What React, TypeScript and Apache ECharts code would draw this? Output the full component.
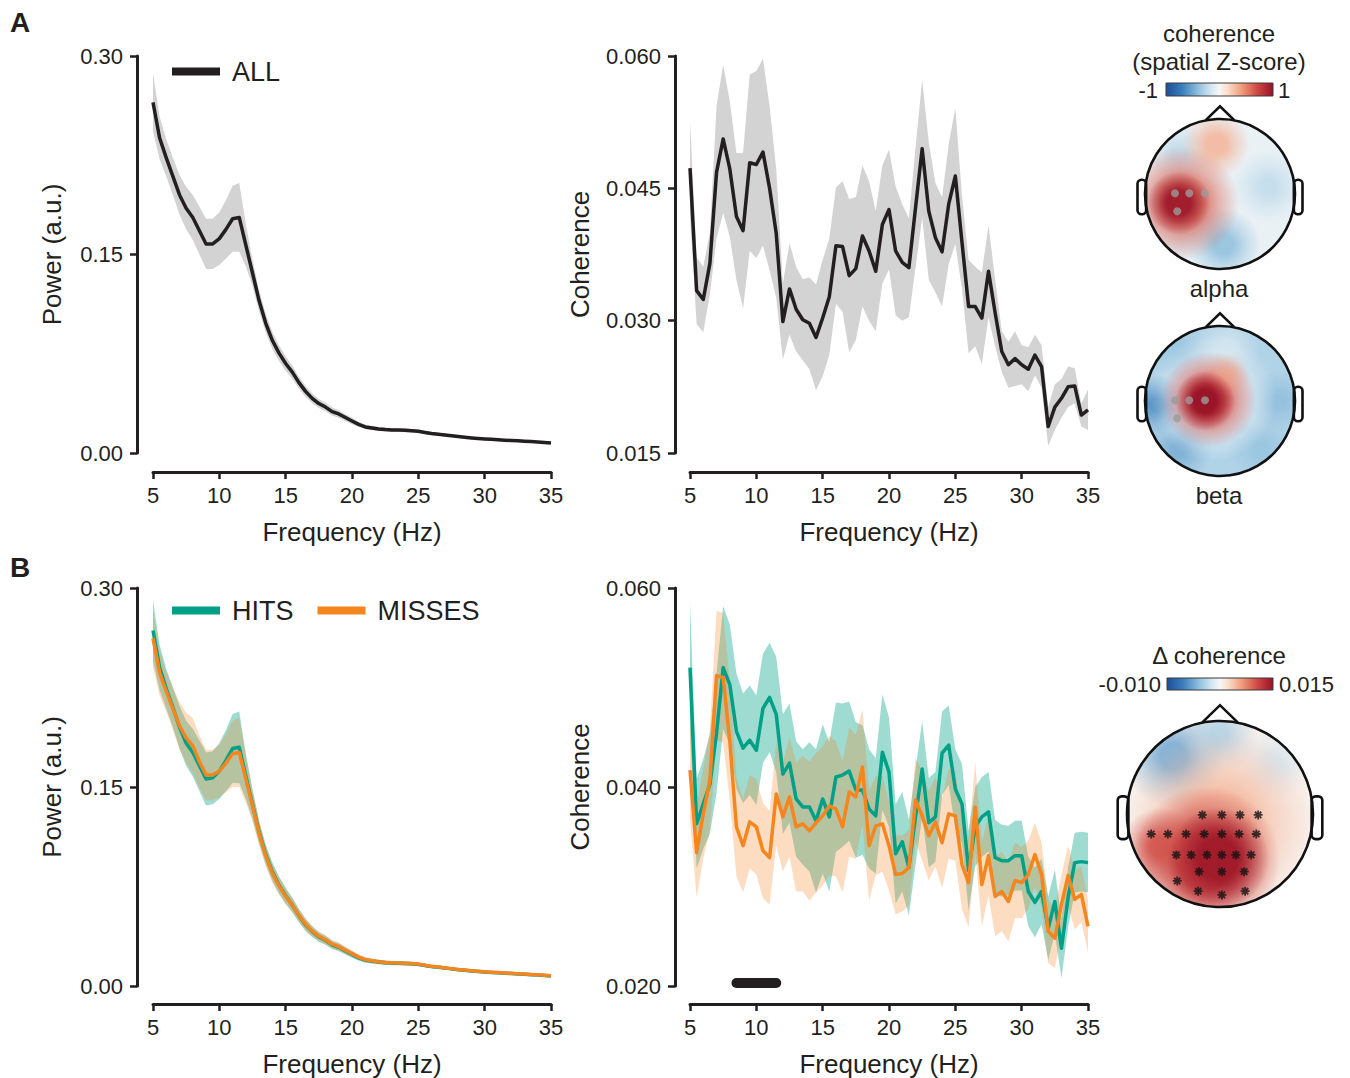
import React, { useEffect, useRef } from 'react';
import * as echarts from 'echarts';

// ---------------- data ----------------
const freqs = [
  5, 5.5, 6, 6.5, 7, 7.5, 8, 8.5, 9, 9.5,
  10, 10.5, 11, 11.5, 12, 12.5, 13, 13.5, 14, 14.5,
  15, 15.5, 16, 16.5, 17, 17.5, 18, 18.5, 19, 19.5,
  20, 20.5, 21, 21.5, 22, 22.5, 23, 23.5, 24, 24.5,
  25, 25.5, 26, 26.5, 27, 27.5, 28, 28.5, 29, 29.5,
  30, 30.5, 31, 31.5, 32, 32.5, 33, 33.5, 34, 34.5,
  35,
];

const allPower = [
  0.265, 0.238, 0.223, 0.209, 0.195, 0.185, 0.178, 0.168, 0.158, 0.158,
  0.162, 0.169, 0.177, 0.178, 0.157, 0.136, 0.115, 0.098, 0.085, 0.0755,
  0.0676, 0.0611, 0.0532, 0.0466, 0.0413, 0.0374, 0.0347, 0.0313, 0.0295, 0.0268,
  0.0242, 0.0216, 0.0197, 0.0189, 0.0182, 0.0177, 0.0174, 0.0173, 0.0171, 0.0168,
  0.0164, 0.0155, 0.0147, 0.0142, 0.0136, 0.013, 0.0124, 0.0119, 0.0114, 0.011,
  0.0106, 0.0103, 0.01, 0.0097, 0.0095, 0.0092, 0.0089, 0.0086, 0.0083, 0.008,
  0.0076,
];
const allPowerSem = [
  0.022, 0.016, 0.014, 0.014, 0.015, 0.016, 0.017, 0.018, 0.019, 0.019,
  0.02, 0.022, 0.025, 0.026, 0.016, 0.01, 0.008, 0.007, 0.0065, 0.006,
  0.0055, 0.005, 0.0045, 0.004, 0.0037, 0.0034, 0.0032, 0.003, 0.0028, 0.0026,
  0.0024, 0.002, 0.0018, 0.0017, 0.0016, 0.0015, 0.0015, 0.0014, 0.0014, 0.0013,
  0.0013, 0.0012, 0.0012, 0.0011, 0.0011, 0.001, 0.001, 0.001, 0.001, 0.0009,
  0.0009, 0.0009, 0.0009, 0.0008, 0.0008, 0.0008, 0.0008, 0.0008, 0.0007, 0.0007,
  0.0007,
];
const hitsPower = [
  0.268, 0.24, 0.224, 0.21, 0.195, 0.183, 0.176, 0.166, 0.156, 0.157,
  0.162, 0.17, 0.179, 0.18, 0.158, 0.137, 0.116, 0.099, 0.086, 0.076,
  0.068, 0.061, 0.053, 0.046, 0.041, 0.037, 0.0345, 0.031, 0.0292, 0.0265,
  0.0238, 0.0212, 0.0195, 0.0187, 0.0181, 0.0176, 0.0173, 0.0172, 0.017, 0.0167,
  0.0163, 0.0154, 0.0146, 0.0141, 0.0135, 0.0129, 0.0123, 0.0118, 0.0113, 0.0109,
  0.0105, 0.0102, 0.0099, 0.0096, 0.0094, 0.0091, 0.0088, 0.0085, 0.0082, 0.0079,
  0.0075,
];
const hitsPowerSem = [
  0.023, 0.017, 0.015, 0.015, 0.016, 0.017, 0.018, 0.019, 0.02, 0.02,
  0.021, 0.023, 0.026, 0.027, 0.017, 0.011, 0.0085, 0.0075, 0.007, 0.0065,
  0.006, 0.0055, 0.005, 0.0045, 0.004, 0.0036, 0.0034, 0.0032, 0.003, 0.0028,
  0.0026, 0.0022, 0.002, 0.0018, 0.0017, 0.0016, 0.0016, 0.0015, 0.0015, 0.0014,
  0.0014, 0.0013, 0.0013, 0.0012, 0.0012, 0.0011, 0.0011, 0.0011, 0.001, 0.001,
  0.001, 0.001, 0.0009, 0.0009, 0.0009, 0.0009, 0.0008, 0.0008, 0.0008, 0.0008,
  0.0008,
];
const missesPower = [
  0.262, 0.236, 0.222, 0.209, 0.196, 0.187, 0.181, 0.169, 0.159, 0.159,
  0.162, 0.168, 0.175, 0.176, 0.156, 0.136, 0.115, 0.098, 0.085, 0.0755,
  0.0676, 0.061, 0.0532, 0.0466, 0.0413, 0.0375, 0.0348, 0.0315, 0.0297, 0.027,
  0.0244, 0.0218, 0.0199, 0.019, 0.0183, 0.0178, 0.0175, 0.0174, 0.0172, 0.0169,
  0.0165, 0.0156, 0.0148, 0.0143, 0.0137, 0.0131, 0.0125, 0.012, 0.0115, 0.0111,
  0.0107, 0.0104, 0.0101, 0.0098, 0.0096, 0.0093, 0.009, 0.0087, 0.0084, 0.0081,
  0.0077,
];
const missesPowerSem = [
  0.022, 0.017, 0.015, 0.016, 0.018, 0.019, 0.021, 0.02, 0.019, 0.019,
  0.02, 0.022, 0.025, 0.026, 0.018, 0.012, 0.009, 0.008, 0.0072, 0.0066,
  0.006, 0.0055, 0.005, 0.0045, 0.004, 0.0036, 0.0034, 0.0032, 0.003, 0.0028,
  0.0026, 0.0022, 0.002, 0.0018, 0.0017, 0.0016, 0.0016, 0.0015, 0.0015, 0.0014,
  0.0014, 0.0013, 0.0013, 0.0012, 0.0012, 0.0011, 0.0011, 0.0011, 0.001, 0.001,
  0.001, 0.001, 0.0009, 0.0009, 0.0009, 0.0009, 0.0008, 0.0008, 0.0008, 0.0008,
  0.0008,
];

const allCoh = [
  0.0473, 0.0334, 0.0324, 0.0365, 0.0468, 0.0506, 0.0472, 0.0418, 0.0402, 0.0479,
  0.0477, 0.0491, 0.045, 0.0399, 0.0299, 0.0336, 0.0313, 0.0301, 0.0297, 0.0281,
  0.0303, 0.0327, 0.0385, 0.0384, 0.0351, 0.0359, 0.0396, 0.0379, 0.0356, 0.0409,
  0.0426, 0.0379, 0.0366, 0.036, 0.0428, 0.0495, 0.0424, 0.0394, 0.0378, 0.0432,
  0.0464, 0.0389, 0.0316, 0.0316, 0.0303, 0.0356, 0.0309, 0.0265, 0.025, 0.0257,
  0.025, 0.0245, 0.0261, 0.0248, 0.018, 0.0202, 0.0212, 0.0225, 0.0226, 0.0193,
  0.0199,
];
const allCohSem = [
  0.0054, 0.0038, 0.0037, 0.0035, 0.0075, 0.0084, 0.0077, 0.0072, 0.0088, 0.01,
  0.0106, 0.0106, 0.0093, 0.0073, 0.0043, 0.0052, 0.0048, 0.0046, 0.0052, 0.006,
  0.0066, 0.0066, 0.0066, 0.0074, 0.0087, 0.0081, 0.008, 0.0079, 0.0068, 0.0067,
  0.0068, 0.0073, 0.0066, 0.0056, 0.0068, 0.0078, 0.0078, 0.0062, 0.0062, 0.0068,
  0.0077, 0.0053, 0.0053, 0.0045, 0.0052, 0.0052, 0.0038, 0.0023, 0.0026, 0.0031,
  0.0022, 0.0025, 0.0023, 0.0024, 0.0022, 0.0026, 0.0022, 0.0023, 0.002, 0.0013,
  0.0023,
];
const hitsCoh = [
  0.052, 0.0363, 0.0383, 0.0403, 0.0454, 0.052, 0.0503, 0.0456, 0.0439, 0.0447,
  0.0437, 0.0479, 0.049, 0.0473, 0.0413, 0.0424, 0.0388, 0.038, 0.038, 0.0366,
  0.0388, 0.037, 0.041, 0.0412, 0.0416, 0.0397, 0.0397, 0.0378, 0.0371, 0.0435,
  0.0415, 0.0333, 0.0345, 0.0319, 0.037, 0.0418, 0.0364, 0.037, 0.0434, 0.0442,
  0.0398, 0.0383, 0.0316, 0.036, 0.037, 0.0375, 0.0329, 0.0326, 0.0326, 0.0331,
  0.0331, 0.0295, 0.0284, 0.0295, 0.0258, 0.0285, 0.0238, 0.0289, 0.0324, 0.0325,
  0.0324,
];
const hitsCohSem = [
  0.0065, 0.0045, 0.0045, 0.005, 0.006, 0.0062, 0.006, 0.0058, 0.0055, 0.0055,
  0.0055, 0.0055, 0.0055, 0.0058, 0.006, 0.006, 0.0058, 0.0058, 0.0065, 0.0072,
  0.0075, 0.0075, 0.0075, 0.0072, 0.007, 0.0068, 0.0065, 0.006, 0.0058, 0.0058,
  0.0055, 0.005, 0.005, 0.0048, 0.0048, 0.0048, 0.0045, 0.0045, 0.0042, 0.004,
  0.004, 0.004, 0.004, 0.004, 0.004, 0.004, 0.0038, 0.0036, 0.0035, 0.0035,
  0.0035, 0.0035, 0.0035, 0.0033, 0.0032, 0.0032, 0.003, 0.003, 0.003, 0.003,
  0.003,
];
const missesCoh = [
  0.0417, 0.0334, 0.0373, 0.0407, 0.0512, 0.051, 0.0446, 0.036, 0.0341, 0.0365,
  0.036, 0.0336, 0.0329, 0.0393, 0.037, 0.039, 0.036, 0.0363, 0.0356, 0.0364,
  0.0371, 0.0381, 0.0378, 0.036, 0.0395, 0.039, 0.042, 0.0341, 0.0361, 0.0363,
  0.0341, 0.0312, 0.0313, 0.0319, 0.0387, 0.0371, 0.0351, 0.0365, 0.0344, 0.0373,
  0.0371, 0.0322, 0.0304, 0.038, 0.0302, 0.0331, 0.029, 0.0295, 0.0285, 0.0306,
  0.0304, 0.0312, 0.0332, 0.0312, 0.0255, 0.0248, 0.0282, 0.0311, 0.0287, 0.0292,
  0.026,
];
const missesCohSem = [
  0.005, 0.0045, 0.0045, 0.005, 0.0065, 0.0065, 0.006, 0.005, 0.0047, 0.0047,
  0.0048, 0.0048, 0.0047, 0.0052, 0.0055, 0.006, 0.0065, 0.0068, 0.007, 0.007,
  0.007, 0.007, 0.0068, 0.0066, 0.0065, 0.0062, 0.0058, 0.0055, 0.005, 0.0048,
  0.0045, 0.004, 0.0038, 0.0038, 0.0042, 0.0045, 0.0045, 0.0045, 0.0045, 0.0045,
  0.0045, 0.0045, 0.0045, 0.0045, 0.0042, 0.004, 0.004, 0.004, 0.004, 0.0038,
  0.0036, 0.0034, 0.0032, 0.0032, 0.0032, 0.003, 0.003, 0.003, 0.003, 0.0028,
  0.0026,
];

// significant cluster (Hz) and drawing level on the coherence axis
const sigCluster = [8.5, 11.5];
const sigLevel = 0.0203;

// topographies: [x, y, radius, colour position 0..1, opacity, core fraction] in head units
const alphaBlobs = [
  [0, 0, 1.1, 0.47, 1, 0.98],
  [-0.55, 0.55, 0.42, 0.37, 0.7, 0.2],
  [0.65, 0.1, 0.5, 0.37, 0.7, 0.2],
  [0.05, -0.68, 0.5, 0.3, 0.85, 0.25],
  [-0.5, -0.6, 0.35, 0.4, 0.5, 0.2],
  [-0.05, 0.66, 0.45, 0.66, 0.85, 0.3],
  [-0.5, -0.12, 0.76, 0.8, 0.92, 0.32],
  [-0.55, -0.12, 0.42, 0.98, 0.95, 0.38],
];
const betaBlobs = [
  [0, 0, 1.1, 0.36, 1, 0.98],
  [-0.85, -0.05, 0.4, 0.18, 0.85, 0.2],
  [-0.55, -0.65, 0.45, 0.24, 0.7, 0.2],
  [-0.55, 0.65, 0.4, 0.3, 0.6, 0.2],
  [0.8, 0.0, 0.42, 0.28, 0.6, 0.2],
  [0.55, -0.65, 0.45, 0.3, 0.6, 0.2],
  [-0.1, 0.05, 0.85, 0.5, 0.9, 0.3],
  [0.1, 0.72, 0.45, 0.45, 0.6, 0.2],
  [-0.15, 0.02, 0.64, 0.83, 0.95, 0.32],
  [0.1, 0.35, 0.3, 0.7, 0.6, 0.2],
  [-0.2, 0.0, 0.4, 1.0, 0.95, 0.38],
];
const deltaBlobs = [
  [0, 0, 1.1, 0.52, 1, 0.98],
  [-0.5, 0.62, 0.55, 0.25, 0.85, 0.25],
  [0.0, 0.85, 0.42, 0.34, 0.75, 0.2],
  [0.6, 0.55, 0.4, 0.4, 0.6, 0.2],
  [0.0, -0.1, 1.0, 0.66, 0.85, 0.3],
  [-0.15, -0.5, 0.8, 0.87, 0.95, 0.38],
  [-0.65, -0.35, 0.42, 0.84, 0.85, 0.25],
  [-0.02, -0.48, 0.55, 0.98, 0.95, 0.38],
];
const seedSensors = [
  [-0.6, 0.01], [-0.41, 0.01], [-0.2, 0.01], [-0.57, -0.23],
];
const sigSensors = [
  [-0.19, -0.01], [0.02, -0.01], [0.215, -0.01], [0.41, -0.01],
  [-0.74, -0.215], [-0.56, -0.215], [-0.365, -0.215], [-0.17, -0.215], [0.02, -0.215], [0.205, -0.215], [0.39, -0.215],
  [-0.47, -0.44], [-0.31, -0.44], [-0.14, -0.44], [0.02, -0.44], [0.17, -0.44], [0.335, -0.44],
  [-0.225, -0.62], [0.02, -0.62], [0.26, -0.62],
  [-0.46, -0.72],
  [-0.235, -0.83], [0.02, -0.87], [0.27, -0.83],
];

// ---------------- style ----------------
const TXT = '#231f20';
const FONT = '"Liberation Sans", Arial, Helvetica, sans-serif';
const TEAL = '#00a087';
const ORANGE = '#f5861f';
const rdbuStops: [number, string][] = [
  [0, '#1d4f9a'], [0.15, '#3a7dbb'], [0.3, '#8ebfdd'], [0.42, '#d4e6f1'], [0.5, '#f7f7f7'],
  [0.58, '#fbdcc9'], [0.7, '#f1a07f'], [0.85, '#cf4a45'], [1, '#981126'],
];
const ASTERISK = 'path://M-1,-5L1,-5L1,5L-1,5Z M-5,-1L5,-1L5,1L-5,1Z M-4.25,-2.83L-2.83,-4.25L4.25,2.83L2.83,4.25Z M-2.83,4.25L-4.25,2.83L2.83,-4.25L4.25,-2.83Z';

function hexToRgb(h: string) {
  const n = parseInt(h.slice(1), 16);
  return [(n >> 16) & 255, (n >> 8) & 255, n & 255];
}
function cmap(t: number) {
  const tt = Math.max(0, Math.min(1, t));
  for (let i = 1; i < rdbuStops.length; i++) {
    const [t1, c1] = rdbuStops[i];
    const [t0, c0] = rdbuStops[i - 1];
    if (tt <= t1) {
      const f = (tt - t0) / (t1 - t0);
      const a = hexToRgb(c0), b = hexToRgb(c1);
      return a.map((v, k) => Math.round(v + (b[k] - v) * f));
    }
  }
  return hexToRgb(rdbuStops[rdbuStops.length - 1][1]);
}

const freqAxis = (gi: number, off: number) => ({
  type: 'value', gridIndex: gi, min: 5, max: 35, interval: 5, offset: off,
  axisLine: { show: true, onZero: false, lineStyle: { color: TXT, width: 3 } },
  axisTick: { show: true, length: 7, lineStyle: { color: TXT, width: 2.5 } },
  axisLabel: { fontSize: 22, color: TXT, margin: 12, fontFamily: FONT },
  splitLine: { show: false },
  name: 'Frequency (Hz)', nameLocation: 'middle', nameGap: 47,
  nameTextStyle: { fontSize: 26, color: TXT, fontFamily: FONT },
});
const valAxis = (gi: number, min: number, max: number, interval: number, dec: number, name: string, gap: number, off: number) => ({
  type: 'value', gridIndex: gi, min, max, interval, offset: off,
  axisLine: { show: true, onZero: false, lineStyle: { color: TXT, width: 3 } },
  axisTick: { show: true, length: 7, lineStyle: { color: TXT, width: 2.5 } },
  axisLabel: { fontSize: 22, color: TXT, margin: 14, fontFamily: FONT, formatter: (v: number) => v.toFixed(dec) },
  splitLine: { show: false },
  name, nameLocation: 'middle', nameGap: gap,
  nameTextStyle: { fontSize: 26, color: TXT, fontFamily: FONT },
});
const hiddenAxis = (gi: number) => ({ type: 'value', gridIndex: gi, min: -1.25, max: 1.25, show: false });

// mean ± sem band drawn as one polygon through the axes' own coordinate mapping
const band = (gi: number, mean: number[], sem: number[], color: string, opacity: number) => ({
  type: 'custom', xAxisIndex: gi, yAxisIndex: gi, silent: true, z: 1,
  data: mean.map((v, i) => [freqs[i], v - sem[i], v + sem[i]]),
  encode: { x: 0, y: [1, 2] },
  renderItem: (params: any, api: any) => {
    if (params.dataIndexInside !== 0) return { type: 'group', children: [] };
    const n = params.dataInsideLength;
    const up: number[][] = [];
    const lo: number[][] = [];
    for (let i = 0; i < n; i++) {
      const x = api.value(0, i);
      up.push(api.coord([x, api.value(2, i)]));
      lo.push(api.coord([x, api.value(1, i)]));
    }
    return {
      type: 'polygon', shape: { points: up.concat(lo.reverse()) },
      style: { fill: color, opacity },
    };
  },
});
const meanLine = (gi: number, name: string, mean: number[], color: string) => ({
  type: 'line', name, xAxisIndex: gi, yAxisIndex: gi, silent: true, z: 3, clip: false,
  data: mean.map((v, i) => [freqs[i], v]), symbol: 'none',
  lineStyle: { color, width: 3.5, join: 'round' }, itemStyle: { color },
});

const blobSeries = (gi: number, data: number[][]) => ({
  type: 'custom', xAxisIndex: gi, yAxisIndex: gi, z: 3, silent: true, data,
  renderItem: (params: any, api: any) => {
    const c = api.coord([api.value(0), api.value(1)]);
    const r = api.size([api.value(2), 0])[0];
    const [R, G, B] = cmap(api.value(3));
    const a = api.value(4);
    const core = api.value(5);
    const col = (al: number) => `rgba(${R},${G},${B},${al})`;
    return {
      type: 'circle', shape: { cx: c[0], cy: c[1], r },
      style: {
        fill: new echarts.graphic.RadialGradient(0.5, 0.5, 0.5, [
          { offset: 0, color: col(a) },
          { offset: core, color: col(a) },
          { offset: (core + 1) / 2, color: col(a * 0.45) },
          { offset: 1, color: col(0) },
        ]),
      },
    };
  },
});
const headSeries = (gi: number) => ({
  type: 'custom', xAxisIndex: gi, yAxisIndex: gi, z: 4, silent: true, data: [[0, 0]],
  renderItem: (params: any, api: any) => {
    const c = api.coord([0, 0]);
    const R = api.size([1, 0])[0];
    const p = (x: number, y: number) => api.coord([x, y]);
    const lw = 2.6;
    const line = { fill: 'none', stroke: '#111', lineWidth: lw };
    const e1 = p(-1.1, 0.19), e2 = p(-0.985, -0.27);
    const f1 = p(0.985, 0.19), f2 = p(1.1, -0.27);
    return {
      type: 'group',
      children: [
        { type: 'ring', shape: { cx: c[0], cy: c[1], r: R * 1.42, r0: R }, style: { fill: '#fff' } },
        { type: 'circle', shape: { cx: c[0], cy: c[1], r: R }, style: line },
        { type: 'polyline', shape: { points: [p(-0.19, 0.985), p(0, 1.17), p(0.19, 0.985)] }, style: line },
        { type: 'rect', shape: { x: e1[0], y: e1[1], width: e2[0] - e1[0], height: e2[1] - e1[1], r: 4 }, style: line },
        { type: 'rect', shape: { x: f1[0], y: f1[1], width: f2[0] - f1[0], height: f2[1] - f1[1], r: 4 }, style: line },
      ],
    };
  },
});

const textEl = (text: string, x: number, y: number, size: number, align = 'center', bold = false) => ({
  type: 'text', x, y, z: 100, silent: true,
  style: { text, fill: TXT, font: `${bold ? 'bold ' : ''}${size}px ${FONT}`, align, verticalAlign: 'middle' },
});
const colorbar = (x: number, y: number, w: number, h: number) => ({
  type: 'rect', z: 100, silent: true, shape: { x, y, width: w, height: h },
  style: {
    fill: new echarts.graphic.LinearGradient(0, 0, 1, 0, rdbuStops.map(([o, c]) => ({ offset: o, color: c }))),
    stroke: '#3a3a3a', lineWidth: 1,
  },
});

export default function App() {
  const ref = useRef<HTMLDivElement>(null);
  useEffect(() => {
    if (!ref.current) return;
    const chart = echarts.init(ref.current, undefined, { renderer: 'svg' });
    const legendBase = {
      icon: 'rect', itemWidth: 48, itemHeight: 8, itemGap: 24, selectedMode: false, padding: 0,
      textStyle: { fontSize: 27, color: TXT, fontFamily: FONT, padding: [0, 0, 0, 7] },
    };
    const option: any = {
      animation: false,
      backgroundColor: '#fff',
      textStyle: { fontFamily: FONT },
      grid: [
        { left: 153, top: 56, width: 398, height: 397 },
        { left: 690, top: 56, width: 398, height: 397 },
        { left: 153, top: 588, width: 398, height: 399 },
        { left: 690, top: 588, width: 398, height: 399 },
        { left: 1126.25, top: 100.25, width: 187.5, height: 187.5 },
        { left: 1126.25, top: 307.25, width: 187.5, height: 187.5 },
        { left: 1103.75, top: 697.75, width: 232.5, height: 232.5 },
      ],
      xAxis: [
        freqAxis(0, 19), freqAxis(1, 19), freqAxis(2, 18), freqAxis(3, 18),
        hiddenAxis(4), hiddenAxis(5), hiddenAxis(6),
      ],
      yAxis: [
        valAxis(0, 0, 0.3, 0.15, 2, 'Power (a.u.)', 72, 16),
        valAxis(1, 0.015, 0.06, 0.015, 3, 'Coherence', 82, 15),
        valAxis(2, 0, 0.3, 0.15, 2, 'Power (a.u.)', 72, 16),
        valAxis(3, 0.02, 0.06, 0.02, 3, 'Coherence', 82, 15),
        hiddenAxis(4), hiddenAxis(5), hiddenAxis(6),
      ],
      legend: [
        { ...legendBase, data: ['ALL'], left: 172, top: 58 },
        { ...legendBase, data: ['HITS', 'MISSES'], left: 172, top: 597 },
      ],
      series: [
        band(0, allPower, allPowerSem, '#d3d3d3', 1),
        meanLine(0, 'ALL', allPower, TXT),
        band(1, allCoh, allCohSem, '#d3d3d3', 1),
        meanLine(1, 'ALL', allCoh, TXT),
        band(2, hitsPower, hitsPowerSem, TEAL, 0.38),
        band(2, missesPower, missesPowerSem, ORANGE, 0.28),
        meanLine(2, 'HITS', hitsPower, TEAL),
        meanLine(2, 'MISSES', missesPower, ORANGE),
        band(3, hitsCoh, hitsCohSem, TEAL, 0.38),
        band(3, missesCoh, missesCohSem, ORANGE, 0.28),
        meanLine(3, 'HITS', hitsCoh, TEAL),
        meanLine(3, 'MISSES', missesCoh, ORANGE),
        {
          type: 'line', xAxisIndex: 3, yAxisIndex: 3, silent: true, clip: false, z: 3,
          data: sigCluster.map((f) => [f, sigLevel]), symbol: 'none',
          lineStyle: { color: TXT, width: 10, cap: 'round' },
        },
        blobSeries(4, alphaBlobs), headSeries(4),
        { type: 'scatter', xAxisIndex: 4, yAxisIndex: 4, data: seedSensors, symbolSize: 8, itemStyle: { color: '#9b9b9b' }, z: 5, silent: true },
        blobSeries(5, betaBlobs), headSeries(5),
        { type: 'scatter', xAxisIndex: 5, yAxisIndex: 5, data: seedSensors, symbolSize: 8, itemStyle: { color: '#9b9b9b' }, z: 5, silent: true },
        blobSeries(6, deltaBlobs), headSeries(6),
        { type: 'scatter', xAxisIndex: 6, yAxisIndex: 6, data: sigSensors, symbol: ASTERISK, symbolSize: 9, itemStyle: { color: '#111' }, z: 5, silent: true },
      ],
      graphic: [
        textEl('A', 10, 22, 28, 'left', true),
        textEl('B', 10, 567, 28, 'left', true),
        textEl('coherence', 1219, 33, 24),
        textEl('(spatial Z-score)', 1219, 61, 24),
        colorbar(1166, 83, 107, 13),
        textEl('-1', 1158, 90, 22, 'right'),
        textEl('1', 1278, 90, 22, 'left'),
        textEl('alpha', 1219, 288, 24),
        textEl('beta', 1219, 495, 24),
        textEl('\u0394 coherence', 1219, 655, 24),
        colorbar(1167, 678, 106, 12),
        textEl('-0.010', 1161, 684, 22, 'right'),
        textEl('0.015', 1279, 684, 22, 'left'),
      ],
    };
    chart.setOption(option);
    return () => chart.dispose();
  }, []);
  return (
    <div
      ref={ref}
      style={{ position: 'absolute', left: 0, top: 0, width: 1350, height: 1078, background: '#fff' }}
    />
  );
}
